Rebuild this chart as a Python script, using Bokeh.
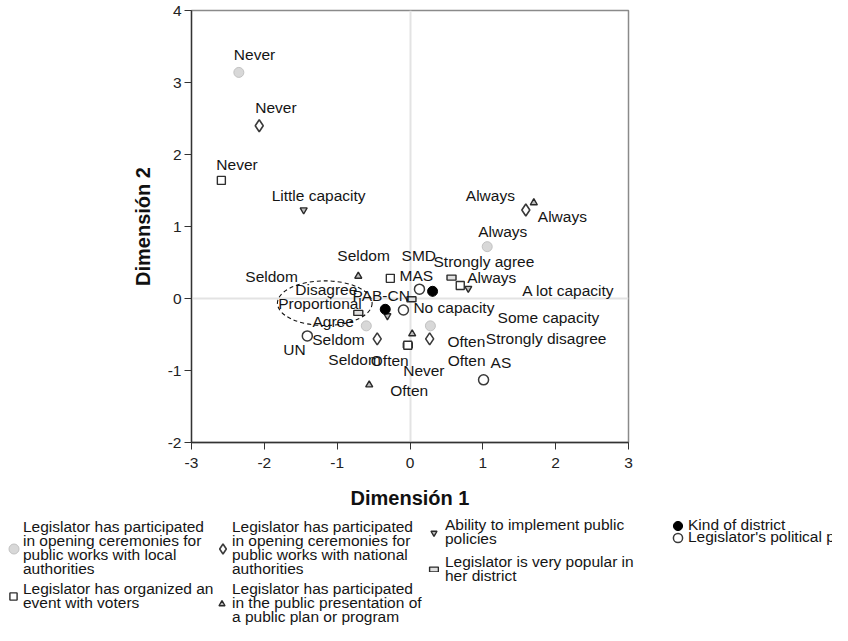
from bokeh.plotting import figure
from bokeh.models import Range1d, FixedTicker, Legend, LegendItem, ColumnDataSource
from bokeh.core.properties import value
from bokeh.embed import file_html
from bokeh.resources import INLINE

FONT = "Liberation Sans"

# ---------------- data (object points, dimension 1 / dimension 2) ----------------
local_cats = ["Never", "Seldom", "Often", "Always"]
local_x = [-2.35, -0.60, 0.28, 1.06]
local_y = [3.14, -0.38, -0.38, 0.72]

national_cats = ["Never", "Seldom", "Often", "Always"]
national_x = [-2.07, -0.45, 0.27, 1.59]
national_y = [2.40, -0.56, -0.56, 1.23]

ability_cats = ["Little capacity", "No capacity", "Some capacity", "A lot capacity"]
ability_x = [-1.46, -0.31, 0.31, 0.80]
ability_y = [1.23, -0.24, 0.09, 0.14]

popular_cats = ["Strongly agree", "Agree", "Disagree", "Strongly disagree"]
popular_x = [0.57, 0.02, -0.71, -0.03]
popular_y = [0.29, -0.01, -0.20, -0.65]

event_cats = ["Never", "Seldom", "Often", "Always"]
event_x = [-2.59, -0.27, -0.03, 0.69]
event_y = [1.64, 0.28, -0.65, 0.18]

present_cats = ["Never", "Seldom", "Often", "Always"]
present_x = [0.03, -0.71, -0.56, 1.70]
present_y = [-0.49, 0.31, -1.20, 1.33]

district_cats = ["SMD", "Proportional"]
district_x = [0.31, -0.34]
district_y = [0.10, -0.15]

party_cats = ["MAS", "PAB-CN", "UN", "AS"]
party_x = [0.13, -0.09, -1.41, 1.01]
party_y = [0.13, -0.16, -0.52, -1.13]

x_ticks = [-3, -2, -1, 0, 1, 2, 3]
y_ticks = [-2, -1, 0, 1, 2, 3, 4]

legend_labels = {
    "local": "Legislator has participated\nin opening ceremonies for\npublic works with local\nauthorities",
    "event": "Legislator has organized an\nevent with voters",
    "national": "Legislator has participated\nin opening ceremonies for\npublic works with national\nauthorities",
    "present": "Legislator has participated\nin the public presentation of\na public plan or program",
    "ability": "Ability to implement public\npolicies",
    "popular": "Legislator is very popular in\nher district",
    "district": "Kind of district",
    "party": "Legislator's political party",
}

# ---------------- label placement (screen-pixel offsets from each point) ----------------
local_dx, local_dy = [-5, -38, 17, -9], [-18, 34, 16, -15]
national_dx, national_dy = [-4, -65, 18, -60], [-18, 1, 22, -14]
ability_dx, ability_dy = [-32, 26, 65, 54], [-14, -8, 25, 2]
popular_dx, popular_dy = [-18, -99, -63, 78], [-16, 22, -23, -7]
event_dx, event_dy = [-5, -53, -37, 7], [-16, -23, 15, -8]
present_dx, present_dy = [-9, -113, 21, 4], [37, 0, 6, 14]
district_dx, district_dy = [-31, -107], [-36, -6]
party_dx, party_dy = [-20, -51, -24, 7], [-14, -15, 14, -17]

# ---------------- styles ----------------
STY = {
    "local": dict(marker="circle", size=10, fill_color="#d8d8d8", line_color="#c2c2c2", line_width=1),
    "national": dict(marker="diamond", size=12, fill_color="white", line_color="#3a3a3a", line_width=1.6),
    "ability": dict(marker="inverted_triangle", size=7, fill_color="#bdbdbd", line_color="#2a2a2a", line_width=1.4),
    "event": dict(marker="square", size=8, fill_color="white", line_color="#2f2f2f", line_width=1.4),
    "present": dict(marker="triangle", size=7, fill_color="#bdbdbd", line_color="#2a2a2a", line_width=1.4),
    "district": dict(marker="circle", size=10, fill_color="black", line_color="black", line_width=1),
    "party": dict(marker="circle", size=10, fill_color="white", line_color="#3a3a3a", line_width=1.5),
}
POP_STY = dict(fill_color="#e0e0e0", line_color="#2a2a2a", line_width=1.4)
TEXT_COLOR = "#151515"

# ---------------- main figure ----------------
W = 832
H_MAIN = 512
FL, FT, FR, FB = 191, 10, 204, 70

p = figure(width=W, height=H_MAIN, x_range=Range1d(-3, 3), y_range=Range1d(-2, 4),
           output_backend="svg", toolbar_location=None,
           min_border_left=FL, min_border_right=FR, min_border_top=FT, min_border_bottom=FB)
p.background_fill_color = "white"
p.border_fill_color = "white"
p.outline_line_color = "#8a8a8a"
p.outline_line_width = 1.5

for ax, ticks in ((p.xaxis[0], x_ticks), (p.yaxis[0], y_ticks)):
    ax.ticker = FixedTicker(ticks=ticks)
    ax.major_label_overrides = {t: str(t) for t in ticks}
    ax.minor_tick_line_color = None
    ax.major_tick_in = 0
    ax.major_tick_out = 7
    ax.major_tick_line_color = "#333333"
    ax.axis_line_color = "#333333"
    ax.axis_line_width = 1.3
    ax.major_label_text_font = FONT
    ax.major_label_text_font_size = "15.5px"
    ax.major_label_text_color = "#222222"
    ax.axis_label_text_font = FONT
    ax.axis_label_text_font_size = "20px"
    ax.axis_label_text_font_style = "bold"
    ax.axis_label_text_color = "#111111"
p.xaxis.axis_label = "Dimensión 1"
p.yaxis.axis_label = "Dimensión 2"
p.xaxis.major_label_standoff = 8
p.xaxis.axis_label_standoff = 16
p.yaxis.major_label_standoff = 3
p.yaxis.axis_label_standoff = 11

p.xgrid.ticker = FixedTicker(ticks=[0])
p.ygrid.ticker = FixedTicker(ticks=[0])
for g in (p.xgrid[0], p.ygrid[0]):
    g.grid_line_color = "#e3e3e3"
    g.grid_line_width = 2

def src(x, y, cats, dx, dy):
    return ColumnDataSource(dict(x=x, y=y, label=cats, dx=dx, dy=dy))

s_local = src(local_x, local_y, local_cats, local_dx, local_dy)
s_nat = src(national_x, national_y, national_cats, national_dx, national_dy)
s_abil = src(ability_x, ability_y, ability_cats, ability_dx, ability_dy)
s_pop = src(popular_x, popular_y, popular_cats, popular_dx, popular_dy)
s_event = src(event_x, event_y, event_cats, event_dx, event_dy)
s_pres = src(present_x, present_y, present_cats, present_dx, present_dy)
s_dist = src(district_x, district_y, district_cats, district_dx, district_dy)
s_party = src(party_x, party_y, party_cats, party_dx, party_dy)

p.scatter("x", "y", source=s_local, **STY["local"])
p.scatter("x", "y", source=s_nat, **STY["national"])
p.scatter("x", "y", source=s_abil, **STY["ability"])
p.rect("x", "y", source=s_pop, width=9, height=5, width_units="screen", height_units="screen", **POP_STY)
p.scatter("x", "y", source=s_event, **STY["event"])
p.scatter("x", "y", source=s_pres, **STY["present"])
p.scatter("x", "y", source=s_dist, **STY["district"])
p.scatter("x", "y", source=s_party, **STY["party"])

for s in (s_local, s_nat, s_abil, s_pop, s_event, s_pres, s_dist, s_party):
    p.text("x", "y", text="label", source=s, x_offset="dx", y_offset="dy",
           text_font=value(FONT), text_font_size="15.5px", text_color=TEXT_COLOR,
           text_align="left", text_baseline="middle")

# dashed ellipse around the "Proportional" label
p.ellipse(x=-1.17, y=-0.065, width=1.30, height=0.62, fill_color=None,
          line_color="#111111", line_width=1.1, line_dash="4 3")

# ---------------- legend panel (separate root under the plot) ----------------
H_LEG = 625 - H_MAIN
q = figure(width=W, height=H_LEG, x_range=Range1d(-3, 3), y_range=Range1d(-2, 4),
           output_backend="svg", toolbar_location=None,
           x_axis_location=None, y_axis_location=None,
           min_border_left=0, min_border_right=0, min_border_top=0, min_border_bottom=0)
q.outline_line_color = None
q.xgrid.visible = False
q.ygrid.visible = False
q.background_fill_color = "white"
q.border_fill_color = "white"

# legend swatches re-use the series' own marks (hidden in this panel)
lr = {
    "local": q.scatter(local_x, local_y, **STY["local"]),
    "event": q.scatter(event_x, event_y, **STY["event"]),
    "national": q.scatter(national_x, national_y, **STY["national"]),
    "present": q.scatter(present_x, present_y, **STY["present"]),
    "ability": q.scatter(ability_x, ability_y, **STY["ability"]),
    "popular": q.rect(popular_x, popular_y, width=9, height=5, width_units="screen",
                      height_units="screen", **POP_STY),
    "district": q.scatter(district_x, district_y, **STY["district"]),
    "party": q.scatter(party_x, party_y, **STY["party"]),
}
for r in lr.values():
    r.visible = False

COMMON = dict(orientation="vertical", padding=0, margin=0, spacing=0,
              background_fill_alpha=0, border_line_alpha=0)
PITCH = 14
BOX = 20

def legend_entry(key, mx, my, gw, gh, text_left, first_line_y):
    # swatch
    q.add_layout(Legend(items=[LegendItem(label=value(""), renderers=[lr[key]])],
                        location=(mx - gw / 2, H_LEG - (my + gh / 2)),
                        glyph_width=gw, glyph_height=gh, label_width=0, label_height=0,
                        label_standoff=0, label_text_font_size="1px", **COMMON), "center")
    # text, one line at a time
    for i, line in enumerate(legend_labels[key].split("\n")):
        cy = first_line_y + i * PITCH
        q.add_layout(Legend(items=[LegendItem(label=value(line))],
                            location=(text_left, H_LEG - (cy + BOX / 2)),
                            glyph_width=0, glyph_height=BOX, label_width=0, label_height=BOX,
                            label_standoff=0, label_text_font=FONT,
                            label_text_font_size="15.5px", label_text_color=TEXT_COLOR,
                            **COMMON), "center")

# (key, swatch centre x, y, swatch box w, h, text left, first line centre y) in panel pixels
legend_entry("local", 13, 36, 25, 25, 23, 15)
legend_entry("event", 13, 84, 18, 18, 23, 77)
legend_entry("national", 222, 36, 25, 25, 232, 15)
legend_entry("present", 221, 91, 15, 15, 232, 77)
legend_entry("ability", 433, 20, 15, 15, 445, 13)
legend_entry("popular", 433, 57, 11, 6, 445, 50)
legend_entry("district", 677, 13, 23, 23, 688, 13)
legend_entry("party", 677, 25, 23, 23, 688, 25)

open("out.html", "w").write(file_html([p, q], INLINE))
